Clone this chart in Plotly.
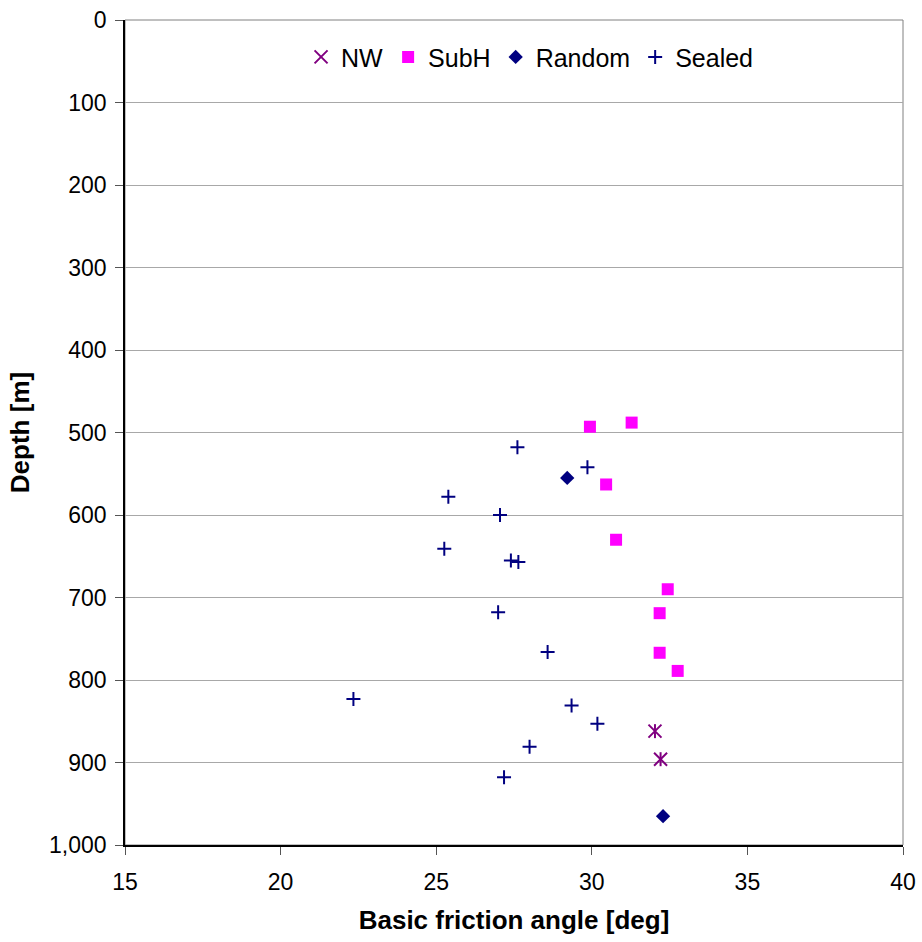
import plotly.graph_objects as go

# Data (friction angle [deg], depth [m])
nw_angle = [32.03, 32.21]
nw_depth = [862, 896]

subh_angle = [29.94, 31.28, 30.46, 30.78, 32.44, 32.18, 32.18, 32.76]
subh_depth = [493, 488, 563, 630, 690, 719, 767, 789]

random_angle = [29.21, 32.29]
random_depth = [555, 965]

sealed_angle = [27.61, 29.86, 25.39, 27.05, 25.26, 27.40, 27.64, 26.99, 28.58,
                22.34, 29.35, 30.18, 28.00, 27.18]
sealed_depth = [518, 542, 578, 600, 641, 655, 657, 718, 766,
                823, 831, 853, 881, 918]

x_ticks = [15, 20, 25, 30, 35, 40]
y_ticks = [0, 100, 200, 300, 400, 500, 600, 700, 800, 900, 1000]

NW_C = "#800080"
SUBH_C = "#FF00FF"
NAVY = "#000080"

fig = go.Figure()
fig.add_trace(go.Scatter(x=nw_angle, y=nw_depth, mode="markers", name="NW",
                         legendgroup="nw",
                         marker=dict(symbol="x-thin-open", size=13, color=NW_C,
                                     line=dict(width=2, color=NW_C))))
fig.add_trace(go.Scatter(x=nw_angle, y=nw_depth, mode="markers", name="NW",
                         legendgroup="nw", showlegend=False, hoverinfo="skip",
                         marker=dict(symbol="line-ns-open", size=10, color=NW_C,
                                     line=dict(width=2, color=NW_C))))
fig.add_trace(go.Scatter(x=subh_angle, y=subh_depth, mode="markers", name="SubH",
                         marker=dict(symbol="square", size=12, color=SUBH_C)))
fig.add_trace(go.Scatter(x=random_angle, y=random_depth, mode="markers", name="Random",
                         marker=dict(symbol="diamond", size=11, color=NAVY)))
fig.add_trace(go.Scatter(x=sealed_angle, y=sealed_depth, mode="markers", name="Sealed",
                         marker=dict(symbol="cross-thin-open", size=10, color=NAVY,
                                     line=dict(width=2, color=NAVY))))

font_family = "Liberation Sans, Arial, sans-serif"

fig.update_layout(
    width=922, height=942,
    margin=dict(l=125, r=19, t=20, b=97),
    paper_bgcolor="white", plot_bgcolor="white",
    font=dict(family=font_family, size=23, color="black"),
    showlegend=True,
    legend=dict(orientation="h", x=0.52, y=0.955, xanchor="center", yanchor="middle",
                font=dict(size=25), itemwidth=30, bgcolor="rgba(0,0,0,0)",
                tracegroupgap=0),
    shapes=[dict(type="rect", xref="paper", yref="paper", x0=0, x1=1, y0=0, y1=1,
                 line=dict(color="#808080", width=1), layer="below")],
)

fig.update_xaxes(range=[15, 40], tickvals=x_ticks, showgrid=False, zeroline=False,
                 showline=True, linecolor="black", linewidth=1.5, automargin=False,
                 ticks="outside", ticklen=8, tickcolor="#555555",
                 tickfont=dict(size=23), ticklabelstandoff=8,
                 title=dict(text="<b>Basic friction angle [deg]</b>", font=dict(size=26), standoff=16))
fig.update_yaxes(range=[1000, 0], tickvals=y_ticks, tickformat=",", showgrid=True,
                 gridcolor="#a8a8a8", gridwidth=1, zeroline=False,
                 showline=True, linecolor="black", linewidth=1.5, automargin=False,
                 ticks="outside", ticklen=8, tickcolor="#555555",
                 tickfont=dict(size=23), ticklabelstandoff=4,
                 title=dict(text="<b>Depth [m]</b>", font=dict(size=26), standoff=12))

fig.write_html("out.html")
